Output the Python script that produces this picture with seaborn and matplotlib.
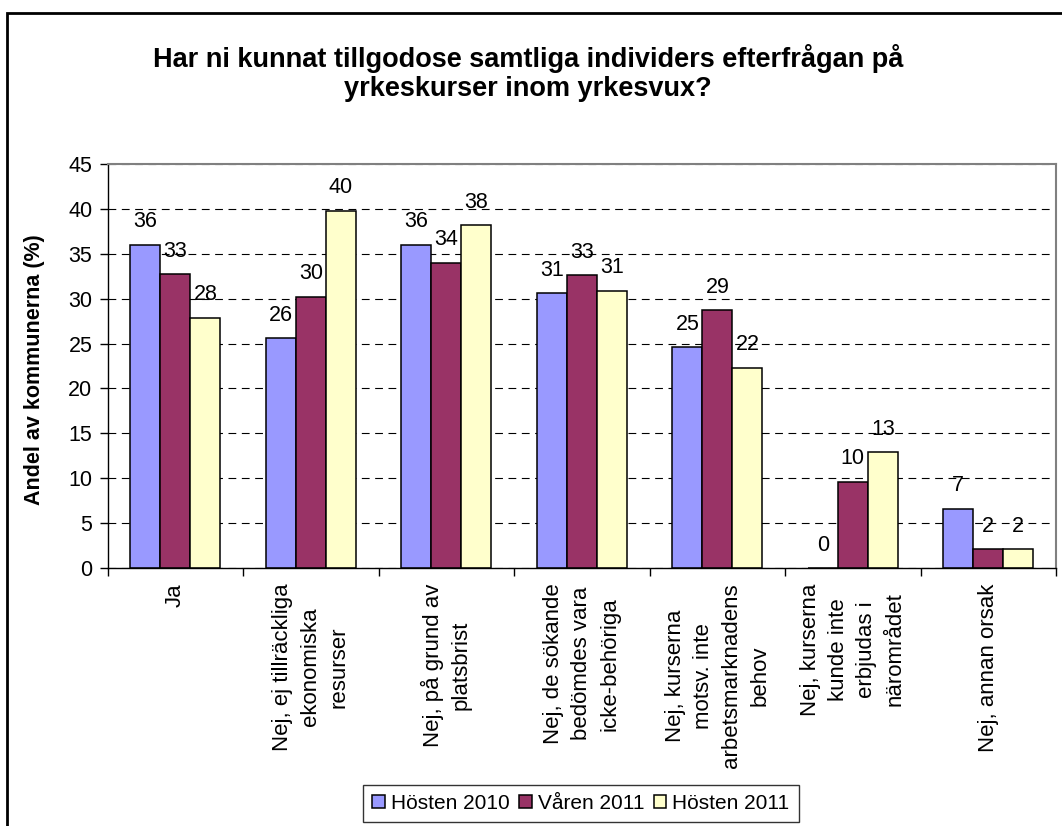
import numpy as np
import pandas as pd
import seaborn as sns
import matplotlib
matplotlib.use('Agg')
import matplotlib.pyplot as plt
from matplotlib.patches import Rectangle

# data
categories = ['Ja',
              'Nej, ej tillräckliga\nekonomiska\nresurser',
              'Nej, på grund av\nplatsbrist',
              'Nej, de sökande\nbedömdes vara\nicke-behöriga',
              'Nej, kurserna\nmotsv. inte\narbetsmarknadens\nbehov',
              'Nej, kurserna\nkunde inte\nerbjudas i\nnärområdet',
              'Nej, annan orsak']
periods = ['Hösten 2010', 'Våren 2011', 'Hösten 2011']
hosten_2010 = [36.0, 25.6, 36.0, 30.6, 24.6, 0.0, 6.6]
varen_2011 = [32.7, 30.2, 34.0, 32.6, 28.7, 9.6, 2.1]
hosten_2011 = [27.9, 39.8, 38.2, 30.9, 22.3, 12.9, 2.1]
colors = ['#9999FF', '#993366', '#FFFFCC']

df = pd.DataFrame({'kategori': categories,
                   periods[0]: hosten_2010,
                   periods[1]: varen_2011,
                   periods[2]: hosten_2011})
df = df.melt(id_vars='kategori', var_name='period', value_name='andel')

sns.set_style('white')
plt.rcParams['font.family'] = ['Liberation Sans', 'DejaVu Sans']
plt.rcParams['text.color'] = 'black'
plt.rcParams['axes.labelcolor'] = 'black'
plt.rcParams['xtick.color'] = 'black'
plt.rcParams['ytick.color'] = 'black'

fig = plt.figure(figsize=(10.62, 8.26), dpi=100)
ax = fig.add_axes([0.1014, 0.3123, 0.8930, 0.4892])

sns.barplot(data=df, x='kategori', y='andel', hue='period', hue_order=periods,
            palette=colors, saturation=1, width=0.665, errorbar=None,
            edgecolor='black', linewidth=1.1, ax=ax)

# value labels
for cont, vals in zip(ax.containers, [hosten_2010, varen_2011, hosten_2011]):
    ax.bar_label(cont, labels=['%.0f' % v for v in vals], padding=9, fontsize=15.5)

ax.set_ylim(0, 45)
ax.set_xlim(-0.5, len(categories) - 0.5)
ax.set_yticks(np.arange(0, 46, 5))
ax.tick_params(axis='y', labelsize=15.5, length=6, width=1, direction='out', left=True, pad=5)

# ticks between groups, labels at group centres
ax.set_xticks(np.arange(-0.5, len(categories), 1.0))
ax.set_xticklabels([])
ax.set_xticks(np.arange(len(categories)), minor=True)
ax.set_xticklabels(categories, minor=True, rotation=90, va='top', ha='center',
                   multialignment='center', fontsize=16, linespacing=1.45)
ax.tick_params(axis='x', which='major', length=6, width=1, direction='out', bottom=True)
ax.tick_params(axis='x', which='minor', length=0, pad=11)
ax.set_xlabel('')

ax.yaxis.grid(True, color='black', linestyle=(0, (7, 5)), linewidth=0.8)
ax.set_axisbelow(True)

for side in ['left', 'bottom']:
    ax.spines[side].set_color('black')
    ax.spines[side].set_linewidth(1)
for side in ['top', 'right']:
    ax.spines[side].set_color('#808080')
    ax.spines[side].set_linewidth(1.5)

ax.set_ylabel('Andel av kommunerna (%)', fontsize=15.5, fontweight='bold')
ax.yaxis.set_label_coords(-0.066, 0.49)

handles, labels = ax.get_legend_handles_labels()
ax.legend(handles, labels, loc='center', bbox_to_anchor=(0.547, 0.0272),
          bbox_transform=fig.transFigure, ncol=3, frameon=True, fancybox=False,
          edgecolor='black', handlelength=0.6, handleheight=0.6, handletextpad=0.3,
          columnspacing=0.45, borderpad=0.45, fontsize=15)
ax.get_legend().get_frame().set_linewidth(1)

fig.text(0.497, 0.9116, 'Har ni kunnat tillgodose samtliga individers efterfrågan på\nyrkeskurser inom yrkesvux?',
         ha='center', va='center', fontsize=19.5, fontweight='bold', linespacing=1.15)

# outer chart frame
fig.add_artist(Rectangle((7 / 1062, -0.1), 1.2, (826 - 13) / 826 + 0.1, transform=fig.transFigure,
                         fill=False, edgecolor='black', linewidth=2, clip_on=False))

plt.savefig('out.png', dpi=100)
print('done')
